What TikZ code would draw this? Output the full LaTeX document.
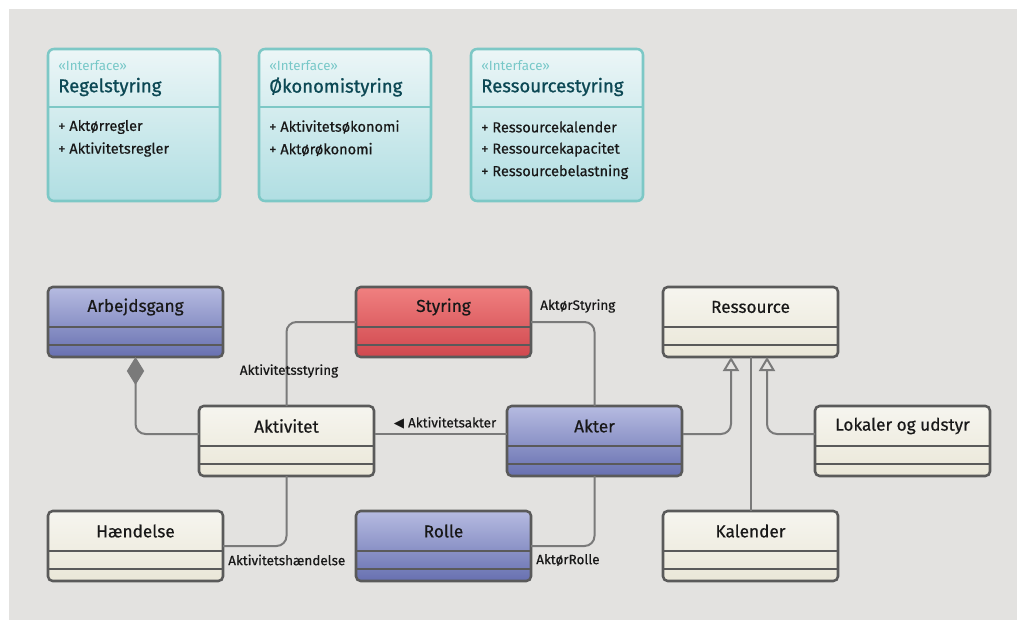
\documentclass[tikz,border=0pt]{standalone}
\usepackage{fontspec}
\setmainfont{Fira Sans}[FakeBold=0.5]
\newfontfamily\headfont{Fira Sans}[FakeBold=0.9]
\newfontfamily\lightfont{Fira Sans}
\newfontfamily\symfont{DejaVu Sans}
\usetikzlibrary{calc,arrows.meta}

\definecolor{bg}{RGB}{227,226,224}
\definecolor{ifborder}{RGB}{125,200,198}
\definecolor{iftop}{RGB}{236,246,247}
\definecolor{ifbot}{RGB}{176,222,226}
\definecolor{ifname}{RGB}{12,72,84}
\definecolor{ifstereo}{RGB}{120,200,200}
\definecolor{edge}{RGB}{90,90,90}
\definecolor{conn}{RGB}{122,122,122}
\definecolor{creamtop}{RGB}{246,245,239}
\definecolor{creambot}{RGB}{234,231,216}
\definecolor{bluetop}{RGB}{182,187,225}
\definecolor{bluebot}{RGB}{103,112,176}
\definecolor{redtop}{RGB}{240,128,128}
\definecolor{redbot}{RGB}{208,72,78}
\definecolor{ink}{RGB}{24,24,24}

\newcommand\umlclass[5]{%
  \node[classbox,#4,anchor=north west] (#1) at (#2,#3) {};
  \draw[sepline] ($(#1.north west)+(0,40)$) -- ($(#1.north east)+(0,40)$);
  \draw[sepline] ($(#1.north west)+(0,58)$) -- ($(#1.north east)+(0,58)$);
  \node[classtitle] (#1-t) at ($(#1.north)+(0,20)$) {#5};
}

\begin{document}
\begin{tikzpicture}[x=0.75pt,y=-0.75pt,
  iface/.style={draw=ifborder, line width=1.9pt, rounded corners=4.5pt,
    top color=iftop, bottom color=ifbot, minimum width=129pt,
    minimum height=114pt, inner sep=0pt, outer sep=0pt},
  ifline/.style={draw=ifborder, line width=1.9pt},
  stereo/.style={anchor=west, inner sep=0pt, text=ifstereo, font=\lightfont\fontsize{10}{11}\selectfont},
  ifnametext/.style={anchor=west, inner sep=0pt, text=ifname, font=\headfont\fontsize{13.9}{15}\selectfont},
  item/.style={anchor=west, inner sep=0pt, text=ink, font=\fontsize{10.9}{12}\selectfont},
  classbox/.style={draw=edge, line width=1.9pt, rounded corners=3.5pt,
    minimum width=131.25pt, minimum height=52.5pt, inner sep=0pt, outer sep=0pt},
  cream/.style={top color=creamtop, bottom color=creambot},
  blue/.style={top color=bluetop, bottom color=bluebot},
  red/.style={top color=redtop, bottom color=redbot},
  sepline/.style={draw=edge, line width=1.9pt},
  classtitle/.style={inner sep=0pt, text=ink, font=\fontsize{12.9}{14}\selectfont},
  assoc/.style={draw=conn, line width=1.5pt, rounded corners=7.5pt},
  lbl/.style={inner sep=0pt, text=ink, font=\fontsize{10.1}{11}\selectfont},
  compo/.style={-{Diamond[length=21pt, width=13pt, fill=conn, line width=0pt]}},
  general/.style={-{Triangle[length=10.5pt, width=12pt, fill=bg, line width=1.5pt]}}
]
\useasboundingbox (0,0) rectangle (1017,620);
\fill[bg] (9,9) rectangle (1017,620);

% ---------- interfaces ----------
\node[iface, anchor=north west] (regel) at (48,49) {};
\draw[ifline] ($(regel.north west)+(0,58)$) -- ($(regel.north east)+(0,58)$);
\node[stereo] (regel-s) at ($(regel.north west)+(10,17)$) {«Interface»};
\node[ifnametext] (regel-n) at ($(regel.north west)+(10,38)$) {Regelstyring};
\node[item] (regel-1) at ($(regel.north west)+(10,78)$) {+ Aktørregler};
\node[item] (regel-2) at ($(regel.north west)+(10,100.5)$) {+ Aktivitetsregler};

\node[iface, anchor=north west] (oeko) at (259,49) {};
\draw[ifline] ($(oeko.north west)+(0,58)$) -- ($(oeko.north east)+(0,58)$);
\node[stereo] (oeko-s) at ($(oeko.north west)+(10,17)$) {«Interface»};
\node[ifnametext] (oeko-n) at ($(oeko.north west)+(10,38)$) {Økonomistyring};
\node[item] (oeko-1) at ($(oeko.north west)+(10,78)$) {+ Aktivitetsøkonomi};
\node[item] (oeko-2) at ($(oeko.north west)+(10,100.5)$) {+ Aktørøkonomi};

\node[iface, anchor=north west] (ress) at (471,49) {};
\draw[ifline] ($(ress.north west)+(0,58)$) -- ($(ress.north east)+(0,58)$);
\node[stereo] (ress-s) at ($(ress.north west)+(10,17)$) {«Interface»};
\node[ifnametext] (ress-n) at ($(ress.north west)+(10,38)$) {Ressourcestyring};
\node[item] (ress-1) at ($(ress.north west)+(10,78)$) {+ Ressourcekalender};
\node[item] (ress-2) at ($(ress.north west)+(10,100.5)$) {+ Ressourcekapacitet};
\node[item] (ress-3) at ($(ress.north west)+(10,123)$) {+ Ressourcebelastning};

% ---------- attachment points on the title rows ----------
\coordinate (akt-l) at ($(199,406)+(0,28)$);
\coordinate (akt-r) at ($(375,406)+(0,28)$);
\coordinate (akter-l) at ($(507,406)+(0,28)$);
\coordinate (akter-r) at ($(683,406)+(0,28)$);
\coordinate (lok-l) at ($(815,406)+(0,28)$);

% ---------- classes ----------
\umlclass{arb}{48}{287}{blue}{Arbejdsgang}
\umlclass{sty}{356}{287}{red}{Styring}
\umlclass{res}{663}{287}{cream}{Ressource}
\umlclass{akt}{199}{406}{cream}{Aktivitet}
\umlclass{akter}{507}{406}{blue}{Akter}
\umlclass{lok}{815}{406}{cream}{Lokaler og udstyr}
\umlclass{hae}{48}{511}{cream}{Hændelse}
\umlclass{rol}{356}{511}{blue}{Rolle}
\umlclass{kal}{663}{511}{cream}{Kalender}

\coordinate (res-a) at ($(res.south west)+(68,0)$);
\coordinate (res-b) at ($(res.south west)+(104,0)$);

% composition
\draw[assoc, compo] (akt-l) -| (arb.south);
% associations
\draw[assoc] (akt.north) |- (sty.west);
\draw[assoc] (sty.east) -| (akter.north);
\draw[assoc] (akt-r) -- (akter-l);
\draw[assoc] (akt.south) |- (hae.east);
\draw[assoc] (akter.south) |- (rol.east);
% generalisations
\draw[assoc, general] (akter-r) -| (res-a);
\draw[assoc, general] (lok-l) -| (res-b);
\draw[assoc] (kal.north) -- (kal.north |- res.south);

% association labels
\node[lbl] (l-aktsty) at (289,371) {Aktivitetsstyring};
\node[lbl, anchor=west] (l-aktorsty) at (540,306) {AktørStyring};
\node[lbl] (l-aktakter) at (445,423) {{\symfont\fontsize{10}{11}\selectfont ◀}\hspace{3pt}Aktivitetsakter};
\node[lbl, anchor=west] (l-akthae) at (228,560) {Aktivitetshændelse};
\node[lbl, anchor=west] (l-aktrol) at (536,560) {AktørRolle};
\end{tikzpicture}
\end{document}
